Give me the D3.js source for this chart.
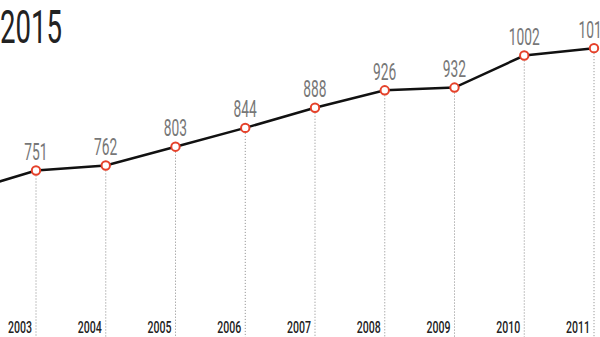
<!DOCTYPE html>
<html>
<head>
<meta charset="utf-8">
<script src="https://cdn.jsdelivr.net/npm/d3@7"></script>
<style>
  html, body { margin: 0; padding: 0; background: #fff; }
  svg { display: block; }
  text { font-family: Roboto, "DejaVu Sans Condensed", sans-serif; }
</style>
</head>
<body>
<script>
// Yearly totals, 2002–2011
const years = [2002, 2003, 2004, 2005, 2006, 2007, 2008, 2009, 2010, 2011];
const values = [705, 751, 762, 803, 844, 888, 926, 932, 1002, 1018];
const title = "2015";

const W = 600, H = 337;
const svg = d3.select("body").append("svg").attr("width", W).attr("height", H);

const x = d3.scaleLinear().domain([2003, 2011]).range([36, 594]);
const y = d3.scaleLinear().domain([751, 1002]).range([170.5, 55.5]);

const data = years.map((yr, i) => ({ year: yr, value: values[i] }));
// only years whose column falls inside the view get labels
const labelled = data.filter(d => x(d.year) >= 0);

// condensed text helper: horizontal squeeze around the anchor point
function squeezed(sel, sx) {
  return sel.attr("transform", d => `translate(${d.tx},${d.ty}) scale(${sx},1)`);
}

// title
svg.append("g").selectAll("text").data([{ tx: 0, ty: 43, t: title }]).join("text")
  .call(squeezed, 0.6)
  .attr("font-size", 46)
  .attr("font-weight", 400)
  .attr("fill", "#222")
  .text(d => d.t);

// dotted drop lines
svg.append("g").selectAll("line").data(data).join("line")
  .attr("x1", d => x(d.year)).attr("x2", d => x(d.year))
  .attr("y1", d => y(d.value) + 5).attr("y2", H)
  .attr("stroke", "#888").attr("stroke-width", 1)
  .attr("stroke-dasharray", "1,2");

// year labels along the bottom
svg.append("g").selectAll("text").data(labelled.map(d => ({ ...d, tx: x(d.year) - 4, ty: 333 }))).join("text")
  .call(squeezed, 0.66)
  .attr("font-size", 16)
  .attr("font-weight", 500)
  .attr("text-anchor", "end")
  .attr("fill", "#222")
  .text(d => d.year);

// line
const line = d3.line().x(d => x(d.year)).y(d => y(d.value));
svg.append("path").datum(data)
  .attr("d", line)
  .attr("fill", "none")
  .attr("stroke", "#111")
  .attr("stroke-width", 2.5);

// points
svg.append("g").selectAll("circle").data(data).join("circle")
  .attr("cx", d => x(d.year)).attr("cy", d => y(d.value))
  .attr("r", 4.2)
  .attr("fill", "#fff")
  .attr("stroke", "#e5412a")
  .attr("stroke-width", 2);

// value labels
svg.append("g").selectAll("text").data(labelled.map(d => ({ ...d, tx: x(d.year), ty: y(d.value) - 10.5 }))).join("text")
  .call(squeezed, 0.6)
  .attr("font-size", 23)
  .attr("font-weight", 400)
  .attr("text-anchor", "middle")
  .attr("fill", "#777")
  .text(d => d.value);
</script>
</body>
</html>
